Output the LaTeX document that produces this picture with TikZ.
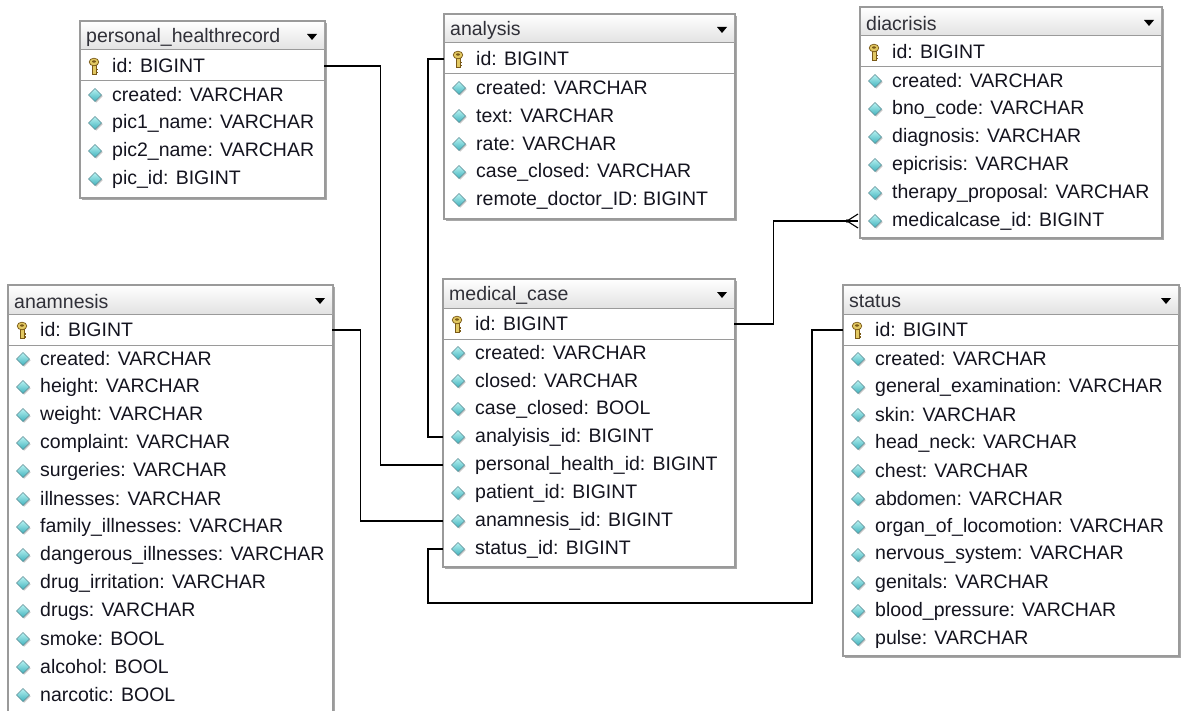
\documentclass[tikz,border=0pt]{standalone}
\usepackage{fontspec}
\setmainfont{Liberation Sans}
\definecolor{textc}{HTML}{14141F}
\definecolor{titlec}{HTML}{303038}
\definecolor{borderc}{HTML}{9A9A9A}
\definecolor{shadowc}{HTML}{A8A8A8}
\definecolor{hdrc}{HTML}{E2E2E2}
\definecolor{diamd}{HTML}{3FB2BC}
\definecolor{diaml}{HTML}{B8F2F2}
\definecolor{diamedge}{HTML}{5E8E96}
\definecolor{keyc}{HTML}{E2C862}
\definecolor{keyd}{HTML}{7A5A18}
\newcommand\rowfont{\fontsize{19.5}{22}\selectfont}
\tikzset{
  x=1pt, y=-1pt,
  conn/.style={draw=black, line width=1.4pt},
  tablebox/.style={rectangle, draw=borderc, fill=white, line width=1.2pt, inner sep=0pt, anchor=north west},
  rowbox/.style={rectangle, inner sep=0pt, minimum height=28pt, anchor=west},
  keyrowbox/.style={rectangle, inner sep=0pt, minimum height=31pt, anchor=west},
  field/.style={anchor=west, inner sep=0pt, text=textc, font=\rowfont},
  ttl/.style={anchor=west, inner sep=0pt, text=titlec, font=\rowfont},
  sepline/.style={draw=borderc, line width=1pt},
  diam/.pic={
    \fill[gray!45] (1.2,-5.3) -- (7.7,1.2) -- (1.2,7.7) -- (-5.3,1.2) -- cycle;
    \shadedraw[top color=diaml, bottom color=diamd, draw=diamedge, line width=0.5pt]
      (0,-6.5) -- (6.5,0) -- (0,6.5) -- (-6.5,0) -- cycle;
  },
  keyicon/.pic={
    \filldraw[fill=keyc, draw=keyd, line width=0.6pt] (-2,-1) rectangle (2,8);
    \fill[keyd] (2,3) rectangle (4,4.5);
    \fill[keyd] (2,6) rectangle (4,7.5);
    \filldraw[fill=keyc, draw=keyd, line width=0.7pt] (0,-4) ellipse (4.8 and 3.8);
    \fill[keyd] (0,-4.5) ellipse (2 and 1.2);
  }
}
% #1 name, #2 left, #3 top, #4 width, #5 bottom, #6 title, #7 rows
\newcommand\erdtable[7]{%
  \pgfmathsetmacro\tabh{#5-#3}%
  \fill[shadowc] (#2+2,#3+2) rectangle (#2+#4+3,#5+3);
  \node[tablebox, minimum width=#4pt, minimum height=\tabh pt] (#1) at (#2,#3) {};
  \shade[top color=white, bottom color=hdrc] (#2,#3) rectangle (#2+#4,#3+29);
  \draw[sepline] (#2,#3+29) -- (#2+#4,#3+29);
  \draw[sepline] (#2,#3+60) -- (#2+#4,#3+60);
  \draw[draw=borderc, line width=1.2pt] (#1.north west) rectangle (#1.south east);
  \node[ttl] (#1-t) at (#2+6,#3+16.5) {#6};
  \fill (#2+#4-17,#3+13) -- (#2+#4-7,#3+13) -- (#2+#4-12,#3+19) -- cycle;
  \node[keyrowbox, minimum width=#4pt] (#1-0) at (#2,#3+45) {};
  \pic at (#2+14,#3+45) {keyicon};
  \node[field] (#1-0-t) at (#2+32,#3+45) {id: BIGINT};
  \foreach \r [count=\i] in {#7} {
    \pgfmathsetmacro\yy{#3+60+14+28*(\i-1)}
    \node[rowbox, minimum width=#4pt] (#1-\i) at (#2,\yy) {};
    \pic at (#2+15,\yy) {diam};
    \node[field] (#1-\i-t) at (#2+32,\yy) {\r};
  }
}
\begin{document}
\begin{tikzpicture}
\clip (0,0) rectangle (1182,711);
\fill[white] (0,0) rectangle (1182,711);

\erdtable{phr}{80}{21}{244}{197}{personal\_healthrecord}{created: VARCHAR,pic1\_name: VARCHAR,pic2\_name: VARCHAR,pic\_id: BIGINT}
\erdtable{an}{444}{14}{290}{218}{analysis}{created: VARCHAR,text: VARCHAR,rate: VARCHAR,case\_closed: VARCHAR,remote\_doctor\_ID: BIGINT}
\erdtable{di}{860}{7}{301}{237}{diacrisis}{created: VARCHAR,bno\_code: VARCHAR,diagnosis: VARCHAR,epicrisis: VARCHAR,therapy\_proposal: VARCHAR,medicalcase\_id: BIGINT}
\erdtable{am}{8}{285}{324}{760}{anamnesis}{created: VARCHAR,height: VARCHAR,weight: VARCHAR,complaint: VARCHAR,surgeries: VARCHAR,illnesses: VARCHAR,family\_illnesses: VARCHAR,dangerous\_illnesses: VARCHAR,drug\_irritation: VARCHAR,drugs: VARCHAR,smoke: BOOL,alcohol: BOOL,narcotic: BOOL}
\erdtable{mc}{443}{279}{291}{566}{medical\_case}{created: VARCHAR,closed: VARCHAR,case\_closed: BOOL,analyisis\_id: BIGINT,personal\_health\_id: BIGINT,patient\_id: BIGINT,anamnesis\_id: BIGINT,status\_id: BIGINT}
\erdtable{st}{843}{285}{335}{655}{status}{created: VARCHAR,general\_examination: VARCHAR,skin: VARCHAR,head\_neck: VARCHAR,chest: VARCHAR,abdomen: VARCHAR,organ\_of\_locomotion: VARCHAR,nervous\_system: VARCHAR,genitals: VARCHAR,blood\_pressure: VARCHAR,pulse: VARCHAR}

% connectors
\draw[conn] (phr-0.east) -- ([xshift=56pt]phr-0.east) |- (mc-5.west);
\draw[conn] (an-0.west) -- ([xshift=-16pt]an-0.west) |- (mc-4.west);
\draw[conn] (am-0.east) -- ([xshift=28pt]am-0.east) |- (mc-7.west);
\coordinate (sbend) at (812,603);
\draw[conn] (mc-8.west) -- ([xshift=-15pt]mc-8.west) |- (sbend) |- (st-0.west);
\coordinate (crow) at ([xshift=-13pt]di-6.west);
\draw[conn] (mc-0.east) -- ([xshift=39pt]mc-0.east) |- (crow);
\draw[conn, line width=1.1pt] ([xshift=-2pt,yshift=7pt]di-6.west) -- (crow) -- ([xshift=-2pt,yshift=-7pt]di-6.west);
\draw[conn, line width=1.1pt] (crow) -- ([xshift=-2pt]di-6.west);
\fill (crow) circle (1.8);
\end{tikzpicture}
\end{document}
